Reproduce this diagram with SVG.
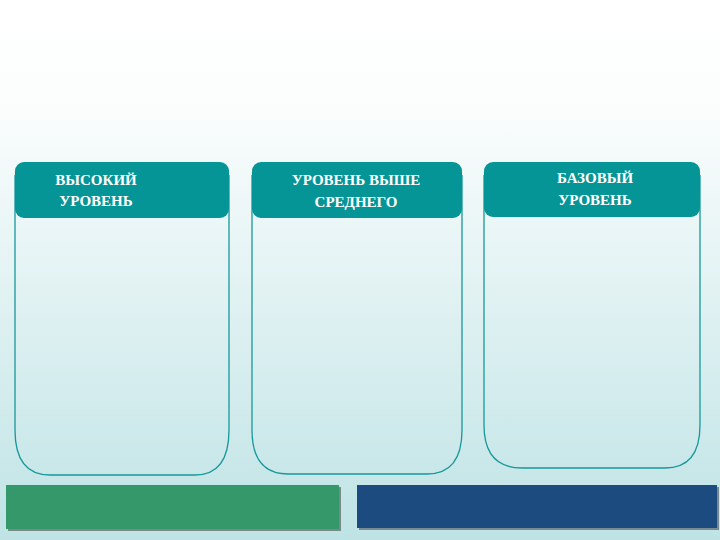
<svg xmlns="http://www.w3.org/2000/svg" width="720" height="540" viewBox="0 0 720 540">
<defs>
<linearGradient id="bg" x1="0" y1="0" x2="0" y2="1">
<stop offset="0" stop-color="#ffffff"/><stop offset="0.2" stop-color="#fbfdfd"/><stop offset="1" stop-color="#bfe3e5"/>
</linearGradient>
<style>
.frame{fill:none;stroke:#17989a;stroke-width:1.3}
.head{fill:#069596}
.t{font-family:"Liberation Serif",serif;font-weight:bold;font-size:15px;fill:#ffffff;text-anchor:middle}
</style>
</defs>
<rect width="720" height="540" fill="url(#bg)"/>
<g id="node1">
<path class="frame" d="M15 175 V430 Q15 475 50 475 H195 Q229 475 229 430 V175"/>
<rect class="head" x="15" y="162" width="214" height="56" rx="9"/>
<text class="t" x="96" y="185">ВЫСОКИЙ</text><text class="t" x="96" y="206">УРОВЕНЬ</text>
</g>
<g id="node2">
<path class="frame" d="M252 175 V430 Q252 474 288 474 H427 Q462 474 462 430 V175"/>
<rect class="head" x="252" y="162" width="210" height="56" rx="9"/>
<text class="t" x="356" y="185">УРОВЕНЬ ВЫШЕ</text><text class="t" x="356" y="207">СРЕДНЕГО</text>
</g>
<g id="node3">
<path class="frame" d="M484 175 V425 Q484 468 522 468 H665 Q700 468 700 425 V175"/>
<rect class="head" x="484" y="162" width="216" height="55" rx="9"/>
<text class="t" x="595" y="183">БАЗОВЫЙ</text><text class="t" x="595" y="205">УРОВЕНЬ</text>
</g>
<g id="node4">
<rect x="8" y="487" width="333" height="44" fill="#7a8a88"/>
<rect x="6" y="485" width="333" height="44" fill="#35986a"/>
</g>
<g id="node5">
<rect x="359" y="487" width="360" height="43" fill="#7a8a90"/>
<rect x="357" y="485" width="360" height="43" fill="#1c4b80"/>
</g>
<g id="connectors"/>
</svg>
